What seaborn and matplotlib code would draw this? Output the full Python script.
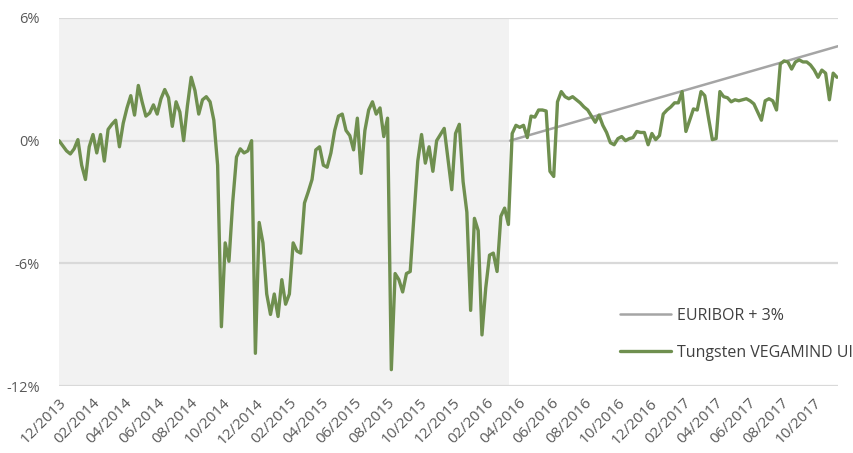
import pandas as pd
import matplotlib
matplotlib.use('Agg')
import matplotlib.pyplot as plt
import matplotlib.dates as mdates
import seaborn as sns

# weekly fund returns in %, first week = 01/12/2013
start_date = '2013-12-01'
fund_values = [
    0.0, -0.25, -0.5, -0.65, -0.4, 0.05, -1.2, -1.9, -0.3, 0.3,
    -0.6, 0.3, -1.0, 0.55, 0.8, 1.0, -0.3, 0.85, 1.6, 2.2,
    1.25, 2.7, 1.9, 1.2, 1.35, 1.75, 1.3, 2.05, 2.5, 2.1,
    0.7, 1.9, 1.4, 0.0, 1.7, 3.1, 2.45, 1.3, 2.0, 2.15,
    1.9, 1.0, -1.2, -9.1, -5.0, -5.9, -3.0, -0.8, -0.4, -0.6,
    -0.5, 0.0, -10.4, -4.0, -5.0, -7.5, -8.5, -7.5, -8.6, -6.8,
    -8.0, -7.5, -5.0, -5.4, -5.5, -3.05, -2.5, -1.9, -0.45, -0.3,
    -1.2, -1.3, -0.6, 0.5, 1.2, 1.3, 0.5, 0.25, -0.45, 1.1,
    -1.6, 0.5, 1.5, 1.9, 1.3, 1.6, 0.2, 1.1, -11.2, -6.5,
    -6.8, -7.4, -6.5, -6.4, -3.65, -1.0, 0.3, -1.1, -0.3, -1.5,
    0.0, 0.3, 0.6, -0.9, -2.4, 0.35, 0.8, -2.0, -3.5, -8.3,
    -3.8, -4.4, -9.5, -7.2, -5.6, -5.5, -6.4, -3.7, -3.3, -4.1,
    0.35, 0.75, 0.65, 0.75, 0.15, 1.2, 1.15, 1.5, 1.5, 1.45,
    -1.5, -1.75, 1.9, 2.4, 2.15, 2.05, 2.15, 2.0, 1.85, 1.65,
    1.5, 1.2, 0.9, 1.25, 0.75, 0.4, -0.1, -0.2, 0.1, 0.2,
    0.0, 0.1, 0.15, 0.45, 0.4, 0.4, -0.2, 0.35, 0.05, 0.25,
    1.3, 1.5, 1.65, 1.85, 1.85, 2.4, 0.45, 1.0, 1.55, 1.5,
    2.4, 2.2, 1.1, 0.05, 0.1, 2.4, 2.15, 2.1, 1.9, 2.0,
    1.95, 2.0, 2.05, 1.95, 1.8, 1.4, 1.0, 1.95, 2.05, 1.95,
    1.5, 3.75, 3.9, 3.85, 3.5, 3.85, 3.95, 3.85, 3.85, 3.7,
    3.45, 3.1, 3.45, 3.3, 2.0, 3.3, 3.1,
]

# benchmark: straight line from launch to last date
euribor_dates = ['2016-03-16', '2017-11-14']
euribor_values = [0.0, 4.62]

shade_end = '2016-03-14'
x_end = '2017-11-14'
y_ticks = [6, 0, -6, -12]
y_labels = ['6%', '0%', '-6%', '-12%']

fund = pd.DataFrame({
    'date': pd.date_range(start_date, periods=len(fund_values), freq='7D'),
    'value': fund_values,
})
bench = pd.DataFrame({'date': pd.to_datetime(euribor_dates), 'value': euribor_values})

sns.set_style('white')
plt.rcParams['font.family'] = ['Open Sans', 'DejaVu Sans']

fig, ax = plt.subplots(figsize=(8.54, 4.53), dpi=100)
fig.subplots_adjust(left=0.0691, right=0.9813, top=0.9603, bottom=0.1479)

ax.axvspan(pd.Timestamp(start_date), pd.Timestamp(shade_end), color='#f2f2f2', zorder=0, lw=0)
for yv in y_ticks:
    ax.axhline(yv, color='#d9d9d9', lw=1.6, zorder=1)

sns.lineplot(data=bench, x='date', y='value', ax=ax, color='#a5a5a5', lw=1.8,
             label='EURIBOR + 3%', zorder=3)
sns.lineplot(data=fund, x='date', y='value', ax=ax, color='#6f8f4f', lw=2.4,
             label='Tungsten VEGAMIND UI', zorder=4)

ax.set_xlim(pd.Timestamp(start_date), pd.Timestamp(x_end))
ax.set_ylim(-12, 6)
ax.set_yticks(y_ticks)
ax.set_yticklabels(y_labels)
ax.xaxis.set_major_locator(mdates.MonthLocator(bymonth=[2, 4, 6, 8, 10, 12]))
ax.xaxis.set_major_formatter(mdates.DateFormatter('%m/%Y'))
ax.tick_params(axis='x', length=4, width=1.2, color='#d9d9d9', pad=3,
               labelsize=11, labelcolor='#595959')
ax.tick_params(axis='y', length=0, pad=14, labelsize=10.5, labelcolor='#595959')
for lab in ax.get_xticklabels():
    lab.set_rotation(45)
    lab.set_ha('right')
    lab.set_rotation_mode('anchor')
ax.set_xlabel('')
ax.set_ylabel('')
for s in ax.spines.values():
    s.set_visible(False)

ax.legend(loc='upper left', bbox_to_anchor=(0.7255, 0.321), bbox_transform=fig.transFigure,
          frameon=False, fontsize=11.5, handlelength=3.25, handletextpad=0.33,
          labelspacing=1.32, borderpad=0, borderaxespad=0, labelcolor='#404040')

plt.savefig('out.png', dpi=100)
